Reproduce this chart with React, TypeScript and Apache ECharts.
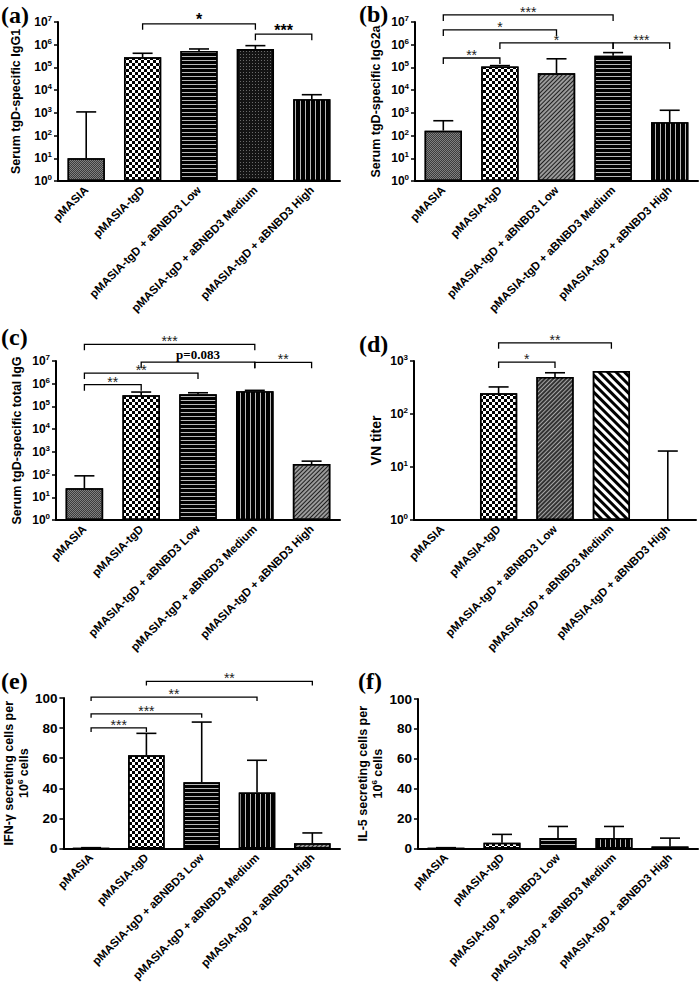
import { useEffect, useRef } from 'react';
import * as echarts from 'echarts';

const CATEGORIES = [
  'pMASIA',
  'pMASIA-tgD',
  'pMASIA-tgD + aBNBD3 Low',
  'pMASIA-tgD + aBNBD3 Medium',
  'pMASIA-tgD + aBNBD3 High',
];

// (a) Serum tgD-specific IgG1
const A_MEAN = [10, 2.8e5, 5.3e5, 6.5e5, 4.0e3];
const A_UPPER = [1100, 4.2e5, 6.5e5, 9.1e5, 6.3e3];
const A_SIG: [number, number, number, string][] = [
  [1, 3, 8.3e6, '*'],
  [3, 4, 2.9e6, '***'],
];

// (b) Serum tgD-specific IgG2a
const B_MEAN = [165, 1.1e5, 5.5e4, 3.3e5, 390];
const B_UPPER = [450, 1.2e5, 2.4e5, 4.5e5, 1300];
const B_SIG: [number, number, number, string][] = [
  [0, 3, 2.04e7, '***'],
  [0, 2, 4.5e6, '*'],
  [1, 3, 1.2e6, '*'],
  [3, 4, 1.2e6, '***'],
  [0, 1, 2.6e5, '**'],
];

// (c) Serum tgD-specific total IgG
const C_MEAN = [25, 3.1e5, 3.4e5, 4.7e5, 290];
const C_UPPER = [88, 4.3e5, 4.0e5, 5.1e5, 390];
const C_SIG: [number, number, number, string][] = [
  [0, 3, 5.4e7, '***'],
  [1, 3, 8.9e6, 'p=0.083'],
  [3, 4, 8.7e6, '**'],
  [0, 2, 2.95e6, '**'],
  [0, 1, 9.1e5, '**'],
];

// (d) VN titer
const D_MEAN = [1, 245, 500, 645, 1];
const D_UPPER: (number | null)[] = [null, 324, 600, null, 20];
const D_SIG: [number, number, number, string][] = [
  [1, 3, 2200, '**'],
  [1, 2, 955, '*'],
];

// (e) IFN-gamma secreting cells per 10^6 cells
const E_MEAN = [0, 62, 44, 37.2, 3.4];
const E_UPPER = [0.5, 76.5, 84, 58.6, 10.3];
const E_SIG: [number, number, number, string][] = [
  [1, 4, 111, '**'],
  [0, 3, 100.6, '**'],
  [0, 2, 89.5, '***'],
  [0, 1, 80.1, '***'],
];

// (f) IL-5 secreting cells per 10^6 cells
const F_MEAN = [0, 3.8, 6.9, 6.9, 1.3];
const F_UPPER = [0.5, 9.4, 14.7, 14.7, 6.9];

const LOG_TICKS_A = [1, 1e7];
const LOG_TICKS_D = [1, 1e3];
const LIN_TICKS = [0, 100, 20];

const PATTERNS: Record<string, any> = {
  dots: {
    color: '#808080',
    decal: { symbol: 'rect', symbolSize: 1, color: '#3c3c3c', dashArrayX: [[1, 1], [0, 1, 1, 0]], dashArrayY: [1, 0] },
  },
  checker: {
    color: '#ffffff',
    decal: { symbol: 'rect', symbolSize: 1, color: '#000000', dashArrayX: [[3, 3], [0, 3, 3, 0]], dashArrayY: [3, 0] },
  },
  hlines: {
    color: '#000000',
    decal: { symbol: 'rect', symbolSize: 1, color: '#b8b8b8', dashArrayX: [10, 0], dashArrayY: [1, 3] },
  },
  vlines: {
    color: '#000000',
    decal: { symbol: 'rect', symbolSize: 1, color: '#b8b8b8', dashArrayX: [1, 4], dashArrayY: [10, 0] },
  },
  darkdots: {
    color: '#141414',
    decal: { symbol: 'rect', symbolSize: 1, color: '#6a6a6a', dashArrayX: [1, 2], dashArrayY: [1, 2] },
  },
  hatch: {
    color: '#9a9a9a',
    decal: { symbol: 'rect', symbolSize: 1, color: '#1e1e1e', dashArrayX: [10, 0], dashArrayY: [1, 2], rotation: -Math.PI / 4 },
  },
  hatchDark: {
    color: '#333333',
    decal: { symbol: 'rect', symbolSize: 1, color: '#a8a8a8', dashArrayX: [10, 0], dashArrayY: [1, 2], rotation: -Math.PI / 4 },
  },
  stripes: {
    color: '#ffffff',
    decal: { symbol: 'rect', symbolSize: 1, color: '#000000', dashArrayX: [10, 0], dashArrayY: [3, 3], rotation: Math.PI / 4 },
  },
};

const A_PAT = ['dots', 'checker', 'hlines', 'darkdots', 'vlines'];
const B_PAT = ['dots', 'checker', 'hatch', 'hlines', 'vlines'];
const C_PAT = ['dots', 'checker', 'hlines', 'vlines', 'hatch'];
const D_PAT = ['dots', 'checker', 'hatchDark', 'stripes', 'dots'];
const E_PAT = ['dots', 'checker', 'hlines', 'vlines', 'hatch'];
const F_PAT = ['dots', 'checker', 'hlines', 'vlines', 'hatch'];

const FONT = 'Liberation Sans, Arial, sans-serif';
const SERIF = 'Liberation Serif, Times New Roman, serif';

type Panel = {
  letter: string;
  letterPos: [number, number];
  grid: { left: number; top: number; width: number; height: number };
  log: boolean;
  range: number[];
  name: string;
  nameGap: number;
  mean: number[];
  upper: (number | null)[];
  pat: string[];
  sig: [number, number, number, string][];
  leg: number;
  starStyle: any;
};

const STAR_BOLD = { fontSize: 16, fontWeight: 'bold', fill: '#000', fontFamily: FONT };
const STAR_LIGHT = { fontSize: 14, fontWeight: 'normal', fill: '#222', fontFamily: FONT };

const PANELS: Panel[] = [
  {
    letter: '(a)', letterPos: [1, 16],
    grid: { left: 58, top: 22, width: 282, height: 159 },
    log: true, range: LOG_TICKS_A, name: 'Serum tgD-specific IgG1', nameGap: 35,
    mean: A_MEAN, upper: A_UPPER, pat: A_PAT, sig: A_SIG, leg: 6, starStyle: STAR_BOLD,
  },
  {
    letter: '(b)', letterPos: [359, 15],
    grid: { left: 415, top: 22, width: 283, height: 159 },
    log: true, range: LOG_TICKS_A, name: 'Serum tgD-specific IgG2a', nameGap: 32,
    mean: B_MEAN, upper: B_UPPER, pat: B_PAT, sig: B_SIG, leg: 6, starStyle: STAR_LIGHT,
  },
  {
    letter: '(c)', letterPos: [1, 338],
    grid: { left: 56, top: 361, width: 284, height: 159 },
    log: true, range: LOG_TICKS_A, name: 'Serum tgD-specific total IgG', nameGap: 32,
    mean: C_MEAN, upper: C_UPPER, pat: C_PAT, sig: C_SIG, leg: 6, starStyle: STAR_LIGHT,
  },
  {
    letter: '(d)', letterPos: [359, 345],
    grid: { left: 414, top: 361, width: 282, height: 159 },
    log: true, range: LOG_TICKS_D, name: 'VN titer', nameGap: 31,
    mean: D_MEAN, upper: D_UPPER, pat: D_PAT, sig: D_SIG, leg: 6, starStyle: STAR_LIGHT,
  },
  {
    letter: '(e)', letterPos: [1, 682],
    grid: { left: 56, top: 698, width: 284, height: 160 },
    log: false, range: LIN_TICKS, name: 'IFN-γ secreting cells per\n10{sup|6} cells', nameGap: 28,
    mean: E_MEAN, upper: E_UPPER, pat: E_PAT, sig: E_SIG, leg: 4, starStyle: STAR_LIGHT,
  },
  {
    letter: '(f)', letterPos: [358, 682],
    grid: { left: 418, top: 699, width: 280, height: 159 },
    log: false, range: LIN_TICKS, name: 'IL-5 secreting cells per\n10{sup|6} cells', nameGap: 32,
    mean: F_MEAN, upper: F_UPPER, pat: F_PAT, sig: [], leg: 4, starStyle: STAR_LIGHT,
  },
];

function buildOption() {
  const grid: any[] = [];
  const xAxis: any[] = [];
  const yAxis: any[] = [];
  const series: any[] = [];
  const graphic: any[] = [];

  PANELS.forEach((p, k) => {
    grid.push({ ...p.grid, containLabel: false });
    xAxis.push({
      type: 'category',
      gridIndex: k,
      data: CATEGORIES,
      axisLine: { lineStyle: { color: '#000', width: 2 } },
      axisTick: { alignWithLabel: true, length: 5, lineStyle: { color: '#000', width: 1.5 } },
      axisLabel: {
        interval: 0, rotate: 45, fontSize: 11.5, fontWeight: 'bold', color: '#000',
        fontFamily: FONT, margin: 7,
      },
    });
    const yBase: any = {
      gridIndex: k,
      name: p.name,
      nameLocation: 'middle',
      nameGap: p.nameGap,
      nameTextStyle: {
        fontSize: p.letter === '(d)' ? 14 : 12.5, fontWeight: 'bold', color: '#000', fontFamily: FONT,
        lineHeight: 15,
        rich: { sup: { fontSize: 8, fontWeight: 'bold', color: '#000', fontFamily: FONT, verticalAlign: 'top', lineHeight: 10 } },
      },
      axisLine: { show: true, lineStyle: { color: '#000', width: 2 } },
      axisTick: { show: true, length: 4, lineStyle: { color: '#000', width: 1.5 } },
      splitLine: { show: false },
      minorTick: { show: false },
    };
    if (p.log) {
      yAxis.push({
        ...yBase,
        type: 'log',
        logBase: 10,
        min: p.range[0],
        max: p.range[1],
        axisLabel: {
          color: '#000', margin: 6,
          formatter: (v: number) => `{b|10}{s|${Math.round(Math.log10(v))}}`,
          rich: {
            b: { fontSize: 12, fontWeight: 'bold', color: '#000', fontFamily: FONT, lineHeight: 15 },
            s: { fontSize: 8, fontWeight: 'bold', color: '#000', fontFamily: FONT, verticalAlign: 'top', lineHeight: 9 },
          },
        },
      });
    } else {
      yAxis.push({
        ...yBase,
        type: 'value',
        min: p.range[0],
        max: p.range[1],
        interval: p.range[2],
        axisLabel: { color: '#000', fontSize: 13.5, fontWeight: 'bold', fontFamily: FONT, margin: 6 },
      });
    }

    series.push({
      type: 'bar',
      xAxisIndex: k,
      yAxisIndex: k,
      barWidth: '66%',
      z: 2,
      data: p.mean.map((v, i) => ({
        value: v,
        itemStyle: {
          color: PATTERNS[p.pat[i]].color,
          decal: PATTERNS[p.pat[i]].decal,
          borderColor: '#000',
          borderWidth: 1.5,
        },
      })),
    });

    const errData = p.mean
      .map((m, i) => [i, m, p.upper[i]])
      .filter((d) => d[2] !== null);
    series.push({
      type: 'custom',
      xAxisIndex: k,
      yAxisIndex: k,
      z: 3,
      clip: false,
      encode: { x: 0, y: 2 },
      data: errData,
      renderItem: (_params: any, api: any) => {
        const i = api.value(0);
        const a = api.coord([i, api.value(1)]);
        const b = api.coord([i, api.value(2)]);
        const st = { stroke: '#000', lineWidth: 1.6 };
        return {
          type: 'group',
          children: [
            { type: 'line', shape: { x1: a[0], y1: a[1], x2: b[0], y2: b[1] }, style: st },
            { type: 'line', shape: { x1: b[0] - 10, y1: b[1], x2: b[0] + 10, y2: b[1] }, style: st },
          ],
        };
      },
    });

    if (p.sig.length) {
      const labels = p.sig.map((s) => s[3]);
      series.push({
        type: 'custom',
        xAxisIndex: k,
        yAxisIndex: k,
        z: 4,
        clip: false,
        encode: { x: 0, y: 2 },
        data: p.sig.map((s) => [s[0], s[1], s[2]]),
        renderItem: (params: any, api: any) => {
          const a = api.coord([api.value(0), api.value(2)]);
          const b = api.coord([api.value(1), api.value(2)]);
          const y = a[1];
          const lab = labels[params.dataIndex];
          const isP = lab.startsWith('p=');
          return {
            type: 'group',
            children: [
              {
                type: 'polyline',
                shape: { points: [[a[0], y + p.leg], [a[0], y], [b[0], y], [b[0], y + p.leg]] },
                style: { stroke: '#000', lineWidth: 1.3, fill: null },
              },
              {
                type: 'text',
                style: {
                  text: lab,
                  x: (a[0] + b[0]) / 2,
                  y: isP ? y - 1 : y + 4,
                  align: 'center',
                  verticalAlign: 'bottom',
                  ...(isP ? { fontSize: 13, fontWeight: 'bold', fill: '#000', fontFamily: SERIF } : p.starStyle),
                },
              },
            ],
          };
        },
      });
    }

    graphic.push({
      type: 'text',
      left: p.letterPos[0],
      top: p.letterPos[1] - 13,
      style: { text: p.letter, fontSize: 24, fontWeight: 'bold', fill: '#000', fontFamily: SERIF },
    });
  });

  return {
    animation: false,
    backgroundColor: '#ffffff',
    textStyle: { fontFamily: FONT },
    grid,
    xAxis,
    yAxis,
    series,
    graphic,
  };
}

export default function App() {
  const ref = useRef<HTMLDivElement>(null);
  useEffect(() => {
    if (!ref.current) return;
    const chart = echarts.init(ref.current, undefined, { renderer: 'svg' });
    chart.setOption(buildOption() as any);
    return () => chart.dispose();
  }, []);
  return (
    <div
      ref={ref}
      style={{ position: 'fixed', left: 0, top: 0, width: 700, height: 984, background: '#fff' }}
    />
  );
}
